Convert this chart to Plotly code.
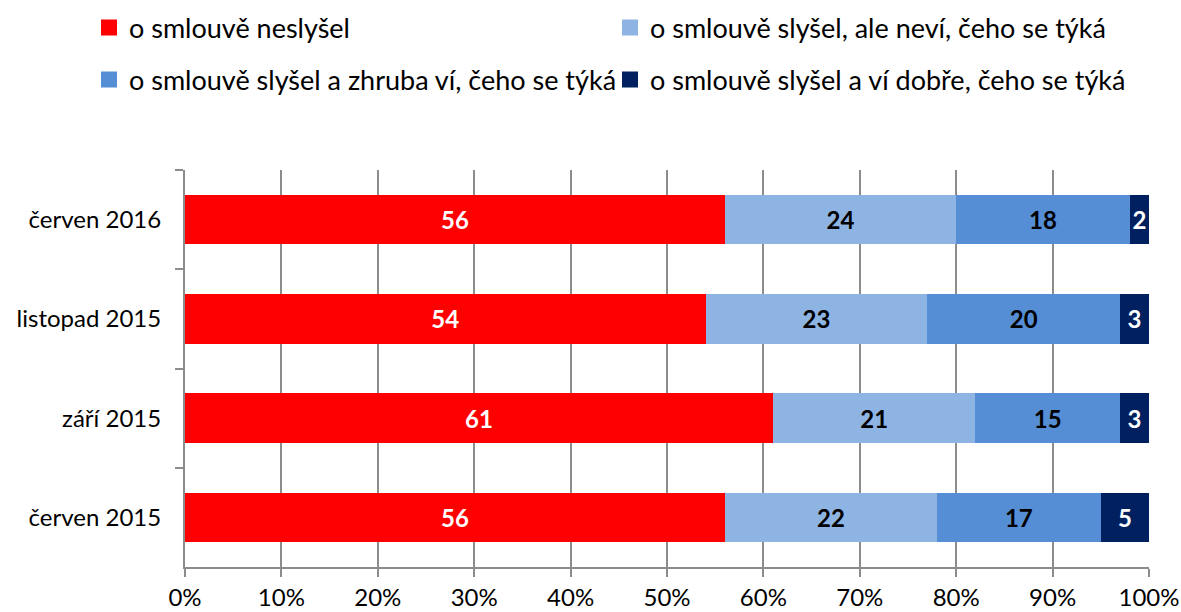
import plotly.graph_objects as go

categories = ["červen 2016", "listopad 2015", "září 2015", "červen 2015"]
series_names = [
    "o smlouvě neslyšel",
    "o smlouvě slyšel, ale neví, čeho se týká",
    "o smlouvě slyšel a zhruba ví, čeho se týká",
    "o smlouvě slyšel a ví dobře, čeho se týká",
]
neslysel = [56, 54, 61, 56]
slysel_nevi = [24, 23, 21, 22]
zhruba_vi = [18, 20, 15, 17]
vi_dobre = [2, 3, 3, 5]
x_ticks = [0, 10, 20, 30, 40, 50, 60, 70, 80, 90, 100]
x_tick_labels = [f"{v}%" for v in x_ticks]

colors = ["#FF0000", "#8EB4E3", "#558ED5", "#002060"]
label_colors = ["white", "black", "black", "white"]
legend_ids = ["legend", "legend", "legend2", "legend2"]
FONT = "Lato"

fig = go.Figure()
for name, vals, col, lc in zip(series_names, [neslysel, slysel_nevi, zhruba_vi, vi_dobre],
                               colors, label_colors):
    fig.add_trace(go.Bar(
        y=categories, x=vals, name=name, orientation="h",
        marker=dict(color=col, line=dict(width=0)),
        text=vals, texttemplate="%{text}", textposition="inside",
        insidetextanchor="middle", constraintext="none",
        textfont=dict(family=FONT, size=24, color=lc, weight="bold"),
        showlegend=False, hoverinfo="skip",
    ))

# legend-only entries (larger square swatches, like the reference)
for name, col, lg in zip(series_names, colors, legend_ids):
    fig.add_trace(go.Scatter(
        x=[None], y=[None], name=name, mode="markers",
        marker=dict(symbol="square", size=17, color=col, line=dict(width=0)),
        legend=lg, showlegend=True, hoverinfo="skip",
    ))

L, R, T, B = 185, 32, 170, 45
plot_w = 1181 - L - R
plot_h = 612 - T - B

legend_common = dict(
    orientation="h", entrywidth=476, entrywidthmode="pixels",
    font=dict(family=FONT, size=27, color="black"),
    xref="paper", yref="paper", xanchor="left", yanchor="middle",
    bgcolor="rgba(0,0,0,0)", traceorder="normal",
)

fig.update_layout(
    barmode="stack", bargap=0.5,
    width=1181, height=612,
    margin=dict(l=L, r=R, t=T, b=B, autoexpand=False),
    plot_bgcolor="white", paper_bgcolor="white",
    font=dict(family=FONT, size=24, color="black"),
    showlegend=True,
    legend=dict(x=(89 - L) / plot_w, y=(612 - B - 28) / plot_h, **legend_common),
    legend2=dict(x=(89 - L) / plot_w, y=(612 - B - 80) / plot_h, **legend_common),
    xaxis=dict(
        range=[0, 100], tickmode="array", tickvals=x_ticks, ticktext=x_tick_labels,
        showgrid=True, gridcolor="#8C8C8C", gridwidth=2,
        showline=True, linecolor="#8C8C8C", linewidth=2,
        ticks="outside", ticklen=8, tickwidth=2, tickcolor="#8C8C8C",
        zeroline=False, fixedrange=True, automargin=False,
        tickfont=dict(family=FONT, size=24, color="black"),
    ),
    yaxis=dict(
        autorange="reversed", type="category",
        categoryorder="array", categoryarray=categories,
        showgrid=False, showline=True, linecolor="#8C8C8C", linewidth=2,
        ticks="outside", ticklen=8, tickwidth=2, tickcolor="#8C8C8C",
        tickson="boundaries", ticklabelstandoff=17, automargin=False,
        tickfont=dict(family=FONT, size=24, color="black"),
        fixedrange=True,
    ),
)

fig.write_html(
    "out.html",
    config={"displayModeBar": False},
    post_script="document.body.style.margin='0';document.body.style.overflow='hidden';",
)
